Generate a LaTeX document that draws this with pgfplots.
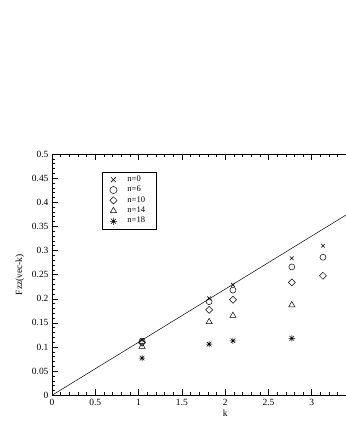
\documentclass[border=0pt]{standalone}
\usepackage{fontspec}
\setmainfont{Liberation Serif}
\usepackage{pgfplots}
\pgfplotsset{compat=1.18}
\pgfdeclareplotmark{star8}{%
  \pgfpathmoveto{\pgfqpoint{-\pgfplotmarksize}{0pt}}\pgfpathlineto{\pgfqpoint{\pgfplotmarksize}{0pt}}%
  \pgfpathmoveto{\pgfqpoint{0pt}{-\pgfplotmarksize}}\pgfpathlineto{\pgfqpoint{0pt}{\pgfplotmarksize}}%
  \pgfpathmoveto{\pgfqpoint{-0.707\pgfplotmarksize}{-0.707\pgfplotmarksize}}\pgfpathlineto{\pgfqpoint{0.707\pgfplotmarksize}{0.707\pgfplotmarksize}}%
  \pgfpathmoveto{\pgfqpoint{-0.707\pgfplotmarksize}{0.707\pgfplotmarksize}}\pgfpathlineto{\pgfqpoint{0.707\pgfplotmarksize}{-0.707\pgfplotmarksize}}%
  \pgfusepathqstroke
  \pgfpathcircle{\pgfpoint{0pt}{0pt}}{0.3\pgfplotmarksize}\pgfusepathqfill
}
\pgfdeclareplotmark{gdiamond}{%
  \pgfpathmoveto{\pgfqpoint{0pt}{\pgfplotmarksize}}%
  \pgfpathlineto{\pgfqpoint{\pgfplotmarksize}{0pt}}%
  \pgfpathlineto{\pgfqpoint{0pt}{-\pgfplotmarksize}}%
  \pgfpathlineto{\pgfqpoint{-\pgfplotmarksize}{0pt}}%
  \pgfpathclose\pgfusepathqstroke
}
\begin{document}
\begin{tikzpicture}
\begin{axis}[
  at={(52bp,52.7bp)}, anchor=south west,
  scale only axis, width=346.3bp, height=241.3bp,
  xmin=0, xmax=4, ymin=0, ymax=0.5,
  xtick={0,0.5,1,1.5,2,2.5,3,3.5},
  xticklabels={0,0.5,1,1.5,2,2.5,3,{}},
  ytick distance=0.05,
  minor x tick num=4, minor y tick num=4,
  tick align=inside,
  major tick length=6bp, minor tick length=3bp,
  every tick/.style={black, line width=0.5pt},
  axis line style={black, line width=0.6pt},
  scaled x ticks=false, scaled y ticks=false,
  /pgf/number format/assume math mode=true,
  xticklabel style={font=\fontsize{9.5}{10}\selectfont},
  yticklabel style={font=\fontsize{9.5}{10}\selectfont, /pgf/number format/fixed, /pgf/number format/precision=2},
  xlabel={k}, ylabel={Fzz(vec-k)},
  label style={font=\fontsize{9.5}{10}\selectfont},
  xlabel style={at={(axis description cs:0.5,-0.073)}, anchor=center},
  ylabel style={at={(axis description cs:-0.093,0.5)}, anchor=center},
  legend style={at={(rel axis cs:0.145,0.9266)}, anchor=north west,
    font=\fontsize{8.6}{9}\selectfont, draw=black, line width=0.5pt,
    inner xsep=3bp, inner ysep=2.5bp, row sep=0bp,
    nodes={inner xsep=2bp, inner ysep=0.6bp, text height=6.3bp, text depth=2.9bp}},
  legend cell align=left,
  legend image code/.code={%
    \path[draw=none] (0bp,0bp) -- (20bp,0bp);
    \draw[#1, mark size=3.6bp] plot coordinates {(8bp,0bp)};},
  mark size=3bp,
]
\addplot[black, no marks, line width=0.5pt, forget plot] coordinates {(0,0) (4,0.44)};
\addplot[only marks, mark=x, mark size=2.6bp, mark options={black, line width=0.6pt}] coordinates {
(1.04,0.114) (1.815,0.201) (2.09,0.229) (2.77,0.284) (3.13,0.310)};
\addlegendentry{\makebox[24bp][l]{n=0}}
\addplot[only marks, mark=o, mark options={black, line width=0.5pt}] coordinates {
(1.04,0.112) (1.815,0.194) (2.09,0.218) (2.77,0.266) (3.13,0.286)};
\addlegendentry{\makebox[24bp][l]{n=6}}
\addplot[only marks, mark=gdiamond, mark size=3.5bp, mark options={black, line width=0.5pt}] coordinates {
(1.04,0.109) (1.815,0.177) (2.09,0.198) (2.77,0.234) (3.13,0.2475)};
\addlegendentry{\makebox[24bp][l]{n=10}}
\addplot[only marks, mark=triangle, mark size=3.6bp, mark options={black, line width=0.5pt}] coordinates {
(1.04,0.101) (1.815,0.152) (2.09,0.165) (2.77,0.187)};
\addlegendentry{\makebox[24bp][l]{n=14}}
\addplot[only marks, mark=star8, mark size=3.2bp, mark options={black, line width=0.5pt}] coordinates {
(1.04,0.077) (1.815,0.106) (2.09,0.113) (2.77,0.118)};
\addlegendentry{\makebox[24bp][l]{n=18}}
\end{axis}
\pgfresetboundingbox
\path[use as bounding box] (0,0) rectangle (346bp,448bp);
\end{tikzpicture}
\end{document}
